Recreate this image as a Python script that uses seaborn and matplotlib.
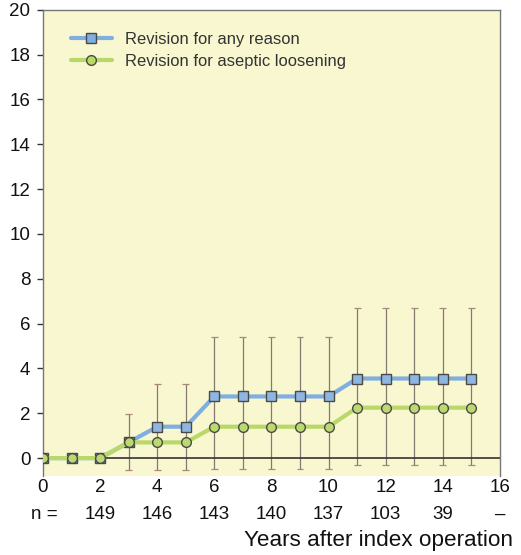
import matplotlib
matplotlib.use("Agg")
import matplotlib.pyplot as plt
import seaborn as sns
import numpy as np
import pandas as pd

years = [0, 1, 2, 3, 4, 5, 6, 7, 8, 9, 10, 11, 12, 13, 14, 15]
any_reason = [0, 0, 0, 0.7, 1.4, 1.4, 2.75, 2.75, 2.75, 2.75, 2.75, 3.55, 3.55, 3.55, 3.55, 3.55]
aseptic = [0, 0, 0, 0.7, 0.7, 0.7, 1.4, 1.4, 1.4, 1.4, 1.4, 2.25, 2.25, 2.25, 2.25, 2.25]
ci_upper = [None, None, None, 1.95, 3.3, 3.3, 5.4, 5.4, 5.4, 5.4, 5.4, 6.7, 6.7, 6.7, 6.7, 6.7]
ci_lower = [None, None, None, -0.55, -0.55, -0.55, -0.5, -0.5, -0.5, -0.5, -0.5, -0.3, -0.3, -0.3, -0.3, -0.3]
x_ticks = [0, 2, 4, 6, 8, 10, 12, 14, 16]
n_ticks = [2, 4, 6, 8, 10, 12, 14, 16]
n_labels = ["149", "146", "143", "140", "137", "103", "39", "–"]
labels = ["Revision for any reason", "Revision for aseptic loosening"]

sns.set_theme(style="white")
plt.rcParams['font.family'] = ['Liberation Sans', 'DejaVu Sans']

fig = plt.figure(figsize=(5.21, 5.55), dpi=100)
ax = fig.add_axes([0.0825, 0.1423, 0.877, 0.840])
ax.set_facecolor("#f8f7d0")

# error bars
for x, lo, hi in zip(years, ci_lower, ci_upper):
    if lo is None:
        continue
    ax.vlines(x, lo, hi, color="#857a70", lw=0.9, zorder=1)
    ax.hlines([lo, hi], x - 0.12, x + 0.12, color="#a8887e", lw=0.9, zorder=1)

df = pd.DataFrame({"year": years * 2,
                   "value": any_reason + aseptic,
                   "series": [labels[0]] * len(years) + [labels[1]] * len(years)})
sns.lineplot(data=df, x="year", y="value", hue="series", style="series",
             palette={labels[0]: "#7faee0", labels[1]: "#b9d86a"},
             markers={labels[0]: "s", labels[1]: "o"}, dashes=False,
             linewidth=3, markersize=7, markeredgecolor="#4a4a45", markeredgewidth=1.0,
             ax=ax, zorder=3)
for line, fc in zip(ax.get_lines()[:2], ["#8fb6e3", "#bcd872"]):
    line.set_markerfacecolor(fc)

ax.axhline(0, color="#333333", lw=1.2, zorder=2)
ax.set_xlim(0, 16)
ax.set_ylim(-0.8, 20)
ax.set_yticks(range(0, 21, 2))
ax.set_yticklabels([str(v) for v in range(0, 21, 2)], fontsize=13.5, color="#111111")
ax.set_xticks([])
ax.set_xlabel("")
ax.set_ylabel("")
ax.tick_params(axis="y", which="both", left=True, length=4, width=1, color="#333333", pad=5)
for side in ["top", "right", "left"]:
    ax.spines[side].set_color("#777777")
    ax.spines[side].set_linewidth(1.0)
ax.spines["bottom"].set_visible(False)

xt = ("data", "axes fraction")
for xv in x_ticks:
    ax.annotate(str(xv), xy=(xv, 0), xycoords=xt, xytext=(0, -2.5), textcoords="offset points",
                ha="center", va="top", fontsize=13.5, color="#111111", annotation_clip=False)
ax.annotate("n =", xy=(0.05, 0), xycoords=xt, xytext=(0, -21.5), textcoords="offset points",
            ha="center", va="top", fontsize=13.5, color="#111111", annotation_clip=False)
for xv, lab in zip(n_ticks, n_labels):
    ax.annotate(lab, xy=(xv, 0), xycoords=xt, xytext=(0, -21.5), textcoords="offset points",
                ha="center", va="top", fontsize=13.5, color="#111111", annotation_clip=False)
fig.text(0.985, 0.027, "Years after index operation", ha="right", va="center",
         fontsize=16.2, color="#111111")

leg = ax.legend(loc="upper left", bbox_to_anchor=(0.028, 0.985), frameon=False,
                fontsize=11.9, handlelength=2.5, labelspacing=0.45, handletextpad=0.8)
for t in leg.get_texts():
    t.set_color("#333333")

fig.savefig("out.png", dpi=100, facecolor="white")
